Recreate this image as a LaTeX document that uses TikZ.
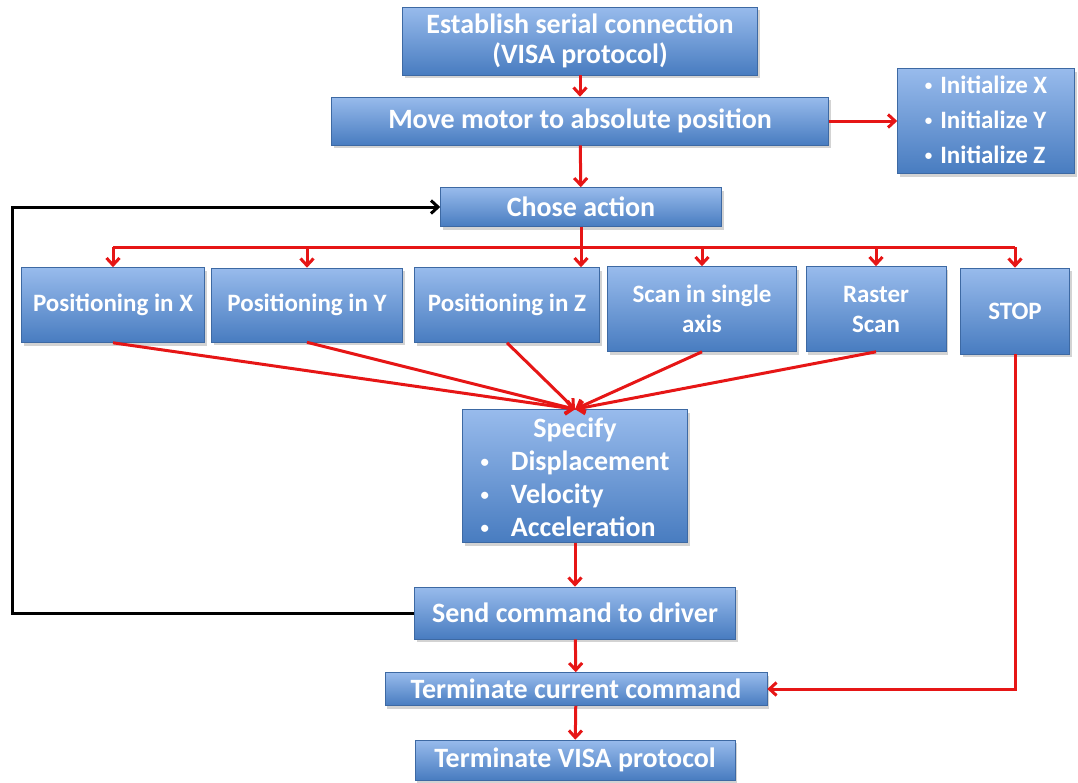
\documentclass[tikz,border=0pt]{standalone}
\usepackage{fontspec}
\usepackage{graphicx}
\setmainfont{Carlito}
\usetikzlibrary{arrows.meta,positioning,shadows,calc}
\definecolor{boxtop}{RGB}{152,187,236}
\definecolor{boxbot}{RGB}{72,124,192}
\definecolor{flowred}{RGB}{230,22,22}
\newcommand{\dotitem}{\raisebox{0.12em}{\scalebox{0.6}{\textbullet}}}

\begin{document}
\begin{tikzpicture}[x=1pt,y=-1pt,
box/.style={rectangle,draw=boxbot!85!black,line width=0.6pt,top color=boxtop,bottom color=boxbot,
  text=white,font=\bfseries\fontsize{28}{30}\selectfont,align=center,inner sep=0pt,
  drop shadow={shadow xshift=2pt,shadow yshift=-3pt,opacity=0.35}},
small/.style={font=\bfseries\fontsize{25}{30}\selectfont},
link/.style={draw=flowred,line width=3pt,-{Straight Barb[length=7pt,width=13pt]}},
wire/.style={draw=flowred,line width=3pt},
back/.style={link,draw=black}]
\useasboundingbox (0,0) rectangle (1078,782);
\node[box,minimum width=355pt,minimum height=68pt] (est) at (580,41) {Establish serial connection\\(VISA protocol)};
\node[box,minimum width=497pt,minimum height=48pt] (move) at (580,121) {Move motor to absolute position};
\node[box,small,minimum width=177pt,minimum height=103pt] (init) at (986,121)
  {\fontsize{25}{35}\selectfont\begin{tabular}{@{}l@{\hspace{8pt}}l@{}}\dotitem & Initialize X\\ \dotitem & Initialize Y\\ \dotitem & Initialize Z\end{tabular}};
\node[box,minimum width=281pt,minimum height=39pt] (chose) at (581,207) {Chose action};
\node[box,small,minimum width=183pt,minimum height=75pt] (px) at (113,305) {Positioning in X};
\node[box,small,minimum width=191pt,minimum height=74pt] (py) at (307,305) {Positioning in Y};
\node[box,small,minimum width=185pt,minimum height=75pt] (pz) at (507,305) {Positioning in Z};
\node[box,small,minimum width=189pt,minimum height=85pt] (scan) at (702,309) {Scan in single\\axis};
\node[box,small,minimum width=140pt,minimum height=85pt] (raster) at (876,309) {Raster\\Scan};
\node[box,small,minimum width=109pt,minimum height=86pt] (stop) at (1015,311) {STOP};
\node[box,minimum width=225pt,minimum height=133pt] (spec) at (575,476)
  {\raisebox{-5pt}[\height][\depth]{\begin{tabular}{@{}l@{\hspace{22pt}}l@{}}\multicolumn{2}{c}{Specify}\\[3pt]
   \dotitem & Displacement\\[3pt] \dotitem & Velocity\\[3pt] \dotitem & Acceleration\end{tabular}}};
\node[box,minimum width=321pt,minimum height=52pt] (send) at (575,613) {Send command to driver};
\node[box,minimum width=382pt,minimum height=33pt] (termcur) at (576,689) {Terminate current command};
\node[box,minimum width=320pt,minimum height=40pt] (termvisa) at (575,760) {Terminate VISA protocol};
\coordinate (bus) at (581,247);
\coordinate (ret) at (12,0);
\draw[link] (est) -- (move);
\draw[link] (move) -- (chose);
\draw[link] (move.east) -- (init.west |- move.east);
\draw[wire] (chose.south) -- (bus);
\draw[wire] (bus -| px.north) -- (bus -| stop.north);
\foreach \n in {px,py,scan,raster,stop}
  \draw[link] (bus -| \n.north) -- (\n.north);
\draw[link] (bus) -- (pz.north -| bus);
\foreach \n in {px,py,pz,scan,raster}
  \draw[link] (\n.south) -- (spec.north);
\draw[link] (spec) -- (send);
\draw[link] (send) -- (termcur);
\draw[link] (termcur) -- (termvisa);
\draw[back] (send.west) -- (send.west -| ret) |- (chose.west);
\draw[link] (stop.south) |- (termcur.east);
\end{tikzpicture}
\end{document}
